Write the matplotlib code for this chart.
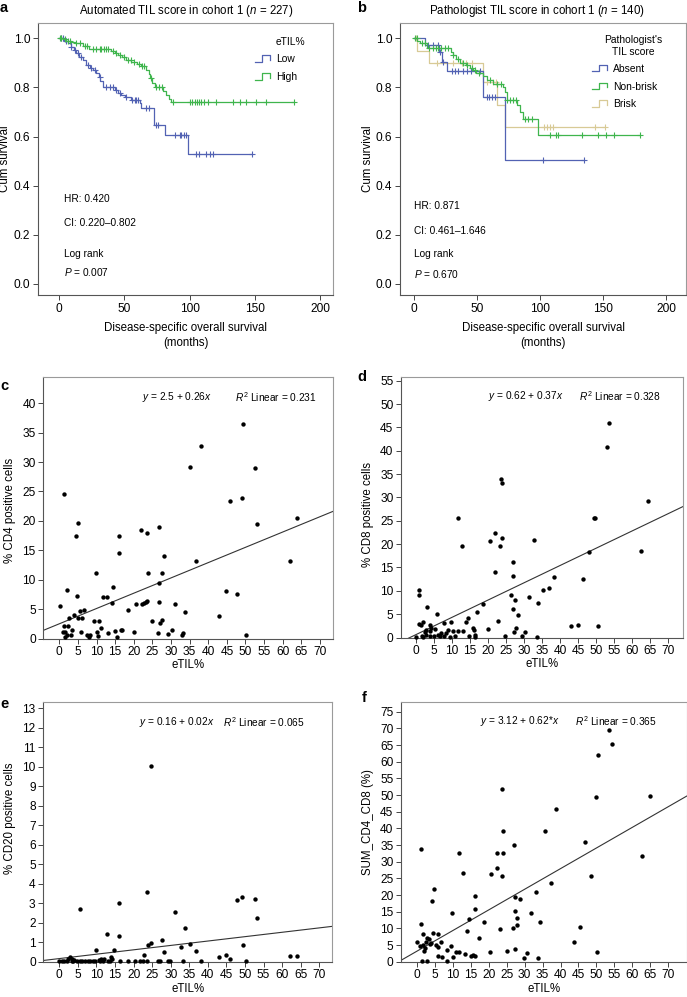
import numpy as np
import matplotlib
matplotlib.use('Agg')
import matplotlib.pyplot as plt
from matplotlib.lines import Line2D
from matplotlib.legend_handler import HandlerBase
from matplotlib.ticker import FormatStrFormatter

plt.rcParams['font.family'] = ['Liberation Sans', 'DejaVu Sans']
plt.rcParams['mathtext.fontset'] = 'custom'
plt.rcParams['mathtext.rm'] = 'Liberation Sans'
plt.rcParams['mathtext.it'] = 'Liberation Sans:italic'
plt.rcParams['mathtext.bf'] = 'Liberation Sans:bold'

# panel a: Kaplan-Meier, automated TIL score (months / cumulative survival)
a_low_t = [3.8, 6.9, 8.9, 11.2, 13.3, 15.3, 18.4, 20.4, 23.5, 26.0, 28.6, 30.4, 31.6, 33.7, 42.6, 45.2, 47.7,
           50.3, 55.4, 61.7, 63.0, 72.4, 80.9, 98.7]
a_low_s = [0.99, 0.98, 0.966, 0.953, 0.939, 0.923, 0.912, 0.891, 0.878, 0.871, 0.858, 0.841, 0.824, 0.80, 0.79,
           0.779, 0.769, 0.760, 0.749, 0.735, 0.715, 0.647, 0.607, 0.529]
a_low_end = 147.7
a_low_cens = [1.3, 3.1, 5.6, 9.4, 12.0, 14.5, 17.1, 22.2, 24.7, 27.3, 31.1, 36.2, 38.8, 41.3, 43.9, 46.4, 51.5,
              56.1, 57.9, 59.2, 60.5, 66.8, 68.6, 74.0, 75.8, 88.5, 92.3, 93.6, 95.4, 96.9, 105.1, 107.1, 112.8,
              115.8, 117.9, 147.7]
a_high_t = [3.1, 5.6, 9.4, 12.0, 18.4, 23.0, 40.1, 42.6, 45.2, 48.5, 51.0, 55.4, 59.7, 63.0, 66.8, 68.6, 69.9,
            71.4, 73.2, 79.6, 82.1, 84.2, 86.0]
a_high_s = [0.996, 0.99, 0.986, 0.98, 0.97, 0.955, 0.95, 0.94, 0.932, 0.923, 0.912, 0.905, 0.896, 0.885, 0.871,
            0.855, 0.837, 0.817, 0.80, 0.787, 0.769, 0.752, 0.740]
a_high_end = 179.6
a_high_cens = [0.5, 1.8, 4.3, 6.9, 8.2, 13.3, 15.8, 19.6, 21.4, 26.0, 28.6, 31.1, 32.4, 34.2, 35.7, 37.5, 41.3,
               43.9, 46.4, 49.5, 52.8, 54.8, 57.1, 61.2, 63.8, 64.8, 70.7, 74.5, 76.5, 79.1, 87.2, 100.0, 102.0,
               103.8, 105.6, 107.1, 108.9, 110.7, 114.0, 120.4, 133.2, 138.3, 143.4, 151.0, 158.7, 179.6]

# panel b: Kaplan-Meier, pathologist TIL score
b_abs_t = [8.7, 19.8, 22.0, 25.9, 55.0, 72.2]
b_abs_s = [0.973, 0.943, 0.905, 0.868, 0.76, 0.505]
b_abs_end = 135.2
b_abs_cens = [11.4, 15.3, 18.8, 20.6, 23.3, 29.9, 32.5, 35.2, 39.2, 41.8, 45.2, 52.4, 57.7, 59.8, 61.6, 64.3,
              102.6, 135.2]
b_nb_t = [2.6, 4.8, 10.0, 29.4, 31.2, 33.3, 36.5, 41.3, 44.4, 47.1, 49.2, 55.0, 57.7, 62.4, 70.4, 72.2, 73.5,
          81.5, 84.1, 86.2, 98.7]
b_nb_s = [0.99, 0.98, 0.96, 0.945, 0.93, 0.915, 0.90, 0.89, 0.88, 0.87, 0.86, 0.845, 0.83, 0.815, 0.80, 0.78,
          0.75, 0.73, 0.70, 0.67, 0.605]
b_nb_end = 179.4
b_nb_cens = [0.8, 2.1, 6.1, 8.7, 12.2, 14.8, 17.2, 19.3, 21.4, 24.6, 27.2, 31.2, 35.2, 39.2, 41.8, 45.8, 48.4,
             51.9, 60.3, 65.6, 68.8, 73.5, 76.2, 78.8, 80.7, 88.1, 90.7, 93.4, 107.9, 112.7, 114.6, 133.1, 146.3,
             152.1, 158.7, 179.4]
b_br_t = [2.6, 12.2, 55.0, 65.6, 72.2]
b_br_s = [0.95, 0.90, 0.82, 0.73, 0.64]
b_br_end = 151.6
b_br_cens = [1.6, 18.0, 31.2, 37.8, 41.3, 45.8, 57.7, 62.4, 65.1, 103.2, 105.3, 107.9, 110.6, 143.7, 151.6]

# panels c-f: eTIL% vs IHC positive cells
c_x = [1.3, 0.2, 2.0, 1.3, 2.2, 2.6, 1.5, 2.0, 3.1, 3.4, 3.9, 4.4, 4.7, 4.9, 5.1, 5.6, 5.9, 6.0, 6.6, 7.5,
       8.2, 9.3, 9.8, 10.2, 10.7, 10.5, 11.2, 11.8, 12.9, 13.2, 14.1, 14.5, 15.0, 15.6, 16.1, 16.1, 16.5, 16.9,
       18.5, 20.1, 20.5, 22.0, 22.3, 22.7, 23.2, 23.6, 23.6, 23.8, 24.8, 26.6, 26.8, 26.9, 26.8, 27.0, 27.5,
       27.5, 28.1, 29.3, 30.2, 31.2, 32.9, 33.3, 33.8, 35.1, 36.7, 38.0, 42.9, 44.7, 45.8, 47.7, 49.1, 49.4,
       50.1, 52.5, 53.2, 62.0, 63.7, 1.1, 1.5, 7.9]
c_y = [24.6, 5.6, 8.2, 2.1, 2.1, 3.4, 1.1, 0.6, 0.6, 1.4, 4.0, 17.5, 7.2, 19.7, 3.4, 4.7, 1.1, 3.4, 4.8, 0.6,
       0.6, 3.0, 11.2, 1.1, 3.0, 0.4, 1.7, 7.1, 7.0, 1.0, 6.0, 8.8, 1.3, 0.3, 17.5, 14.5, 1.4, 1.5,
       4.8, 1.1, 5.8, 18.4, 5.8, 6.1, 6.2, 6.4, 18.0, 11.2, 3.0, 0.9, 19.0, 9.4, 6.2, 2.6, 3.2,
       11.1, 14.1, 0.7, 1.4, 5.8, 0.6, 0.9, 4.5, 29.2, 13.2, 32.8, 3.8, 8.1, 23.4, 7.5, 23.8, 36.5,
       0.6, 29.0, 19.5, 13.2, 20.4, 1.1, 0.2, 0.2]
c_fit = (2.5, 0.26)

d_x = [53.6, 52.9, 23.7, 23.9, 64.4, 11.6, 49.5, 49.8, 22.0, 20.5, 23.9, 23.2, 12.8, 32.8, 47.9, 62.4, 26.8,
       26.8, 21.9, 38.3, 46.3, 37.0, 35.2, 0.8, 0.8, 26.5, 31.4, 27.6, 33.9, 18.5, 3.1, 27.0, 28.3, 5.7, 16.9,
       14.3, 13.9, 7.8, 9.7, 2.0, 0.8, 1.5, 3.9, 4.3, 3.9, 2.4, 2.8, 22.8, 20.1, 43.0, 44.9, 50.5, 27.2, 27.7,
       30.2, 10.4, 11.7, 9.0, 13.1, 15.7, 16.1, 16.3, 7.0, 6.0, 6.6, 0.0, 1.6, 2.0, 2.7, 4.0, 5.0, 7.9, 9.5,
       10.7, 14.8, 16.4, 24.7, 29.3, 33.5, 5.2, 8.3]
d_y = [45.9, 40.7, 34.0, 33.0, 29.3, 25.5, 25.5, 25.5, 22.4, 20.7, 21.3, 19.5, 19.6, 20.8, 18.3, 18.5, 16.1,
       13.2, 14.1, 13.0, 12.6, 10.6, 10.1, 10.1, 9.1, 9.1, 8.7, 8.0, 7.4, 7.1, 6.6, 6.1, 4.9, 5.0, 5.5,
       4.1, 3.3, 3.1, 3.4, 3.4, 2.9, 2.6, 2.7, 2.0, 1.3, 1.1, 1.5, 3.6, 1.9, 2.4, 2.6, 2.4, 1.1, 2.0,
       1.1, 1.3, 1.3, 1.6, 1.3, 2.0, 1.5, 0.6, 0.9, 0.5, 0.4, 0.2, 0.4, 0.2, 0.6, 0.4, 0.4, 0.4, 0.2,
       0.4, 0.4, 0.2, 0.4, 0.4, 0.2, 1.8, 1.0]
d_fit = (0.62, 0.37)

e_x = [24.6, 23.6, 5.7, 16.2, 31.2, 33.8, 12.9, 16.1, 47.8, 49.3, 52.6, 53.2, 9.8, 14.8, 23.8, 24.7, 27.6,
       28.2, 32.7, 35.1, 36.7, 49.5, 22.8, 13.9, 43.0, 44.8, 45.9, 62.0, 63.9, 2.9, 2.4, 3.5, 4.0, 11.2, 12.1,
       14.3, 10.6, 0.0, 0.6, 1.3, 2.0, 3.3, 3.8, 4.7, 5.6, 6.0, 6.9, 7.8, 8.3, 9.0, 9.6, 11.0, 11.8, 13.2,
       13.6, 16.3, 18.6, 20.4, 21.7, 22.6, 23.5, 26.7, 27.1, 29.4, 29.8, 33.2, 38.2, 50.3]
e_y = [10.04, 3.56, 2.70, 2.99, 2.57, 1.73, 1.40, 1.33, 3.15, 3.34, 3.20, 2.22, 0.60, 0.60, 0.86, 0.94, 1.11,
       0.50, 0.77, 0.89, 0.56, 0.86, 0.34, 0.26, 0.22, 0.34, 0.12, 0.31, 0.29, 0.22, 0.12, 0.12, 0.08, 0.15,
       0.15, 0.12, 0.10, 0.04, 0.05, 0.05, 0.06, 0.05, 0.04, 0.05, 0.05, 0.04, 0.05, 0.05, 0.04, 0.05, 0.05,
       0.05, 0.04, 0.05, 0.05, 0.05, 0.04, 0.05, 0.04, 0.05, 0.05, 0.05, 0.04, 0.05, 0.04, 0.05, 0.04, 0.04]
e_fit = (0.16, 0.0225)

f_x = [53.4, 54.3, 50.4, 50.0, 64.9, 23.8, 38.8, 35.7, 24.1, 46.8, 27.1, 1.1, 11.9, 22.4, 24.1, 13.0, 20.8,
       22.4, 23.7, 48.6, 37.4, 33.3, 4.8, 4.3, 16.3, 27.3, 28.7, 16.3, 9.9, 27.3, 31.7, 14.6, 28.0, 18.7, 34.4,
       1.1, 28.0, 26.8, 23.3, 14.1, 45.5, 17.2, 43.8, 1.8, 4.6, 5.9, 0.1, 2.8, 3.5, 4.0, 2.5, 3.8, 5.3, 1.0,
       1.8, 2.3, 2.0, 6.8, 6.0, 8.3, 9.6, 5.8, 7.1, 8.5, 10.2, 11.0, 11.7, 13.4, 15.1, 15.7, 16.3, 20.3, 25.1,
       27.4, 29.9, 30.6, 33.8, 50.1, 1.6, 3.0, 62.8]
f_y = [69.5, 65.2, 62.0, 49.3, 49.7, 51.8, 45.8, 39.3, 39.3, 35.9, 35.1, 33.8, 32.5, 32.5, 32.5, 26.5, 26.3,
       28.0, 25.7, 25.7, 23.5, 20.8, 21.7, 18.3, 19.7, 19.3, 18.8, 15.7, 14.7, 15.3, 14.5, 12.8, 13.0, 12.0, 12.0,
       11.2, 11.0, 10.0, 9.7, 9.2, 10.5, 7.0, 6.0, 8.2, 8.7, 8.2, 6.0, 7.2, 6.8, 5.5, 5.8, 5.2, 5.0, 4.8,
       5.0, 4.0, 3.2, 5.8, 4.5, 3.4, 4.7, 1.7, 1.3, 0.3, 1.5, 2.8, 3.0, 2.3, 1.7, 2.0, 1.7, 3.0, 3.3,
       3.7, 1.0, 2.5, 1.0, 2.9, 0.3, 0.3, 31.8]
f_fit = (3.12, 0.62)

blue = '#5262b3'
green = '#3fb54d'
tan = '#d8ca96'
W, H = 687.0, 997.0


def px_axes(fig, l, t, r, b):
    return fig.add_axes([l / W, 1 - b / H, (r - l) / W, (b - t) / H])


def style(ax):
    for s in ['top', 'right']:
        ax.spines[s].set_color('#9a9a9a')
    for s in ['left', 'bottom']:
        ax.spines[s].set_color('#555555')
    for s in ax.spines.values():
        s.set_linewidth(0.8)
    ax.tick_params(direction='out', length=3.5, width=0.7, color='#444444', labelsize=8.6, pad=2)


class StepHandler(HandlerBase):
    def create_artists(self, legend, orig_handle, xdescent, ydescent, width, height, fontsize, trans):
        xs = np.array([0, 0.38, 0.38, 0.85, 0.85]) * width - xdescent
        ys = np.array([0.05, 0.05, 0.95, 0.95, 0.3]) * height - ydescent
        return [Line2D(xs, ys, color=orig_handle.get_color(), lw=0.9, transform=trans)]


def km(ax, drop_t, surv, end, cens, color):
    t = np.r_[0, drop_t, end]
    s = np.r_[1.0, surv, surv[-1]]
    ax.step(t, s, where='post', color=color, lw=0.9)
    idx = np.searchsorted(drop_t, cens, side='right')
    ax.plot(cens, np.r_[1.0, surv][idx], ls='none', marker='+', ms=4.5, mew=0.8, color=color)


def km_axes(ax, xlim, title, title_x, stats):
    style(ax)
    ax.set_xlim(*xlim)
    ax.set_ylim(-0.045, 1.062)
    ax.set_xticks([0, 50, 100, 150, 200])
    ax.set_yticks([0, 0.2, 0.4, 0.6, 0.8, 1.0])
    ax.yaxis.set_major_formatter(FormatStrFormatter('%.1f'))
    ax.set_ylabel('Cum survival', fontsize=8.3)
    ax.yaxis.set_label_coords(-0.09, 0.5)
    ax.set_xlabel('Disease-specific overall survival\n(months)', fontsize=8.3, va='top', linespacing=1.3)
    ax.xaxis.set_label_coords(0.5, -0.1)
    ax.text(title_x, 1.015, title, transform=ax.transAxes, ha='center', va='bottom', fontsize=8.3)
    for (x, y, txt) in stats:
        ax.text(x, y, txt, transform=ax.transAxes, fontsize=7.3, va='center')


def km_legend(ax, handles, title, x, y, title_x, title_y):
    ax.legend(handles=handles, handler_map={Line2D: StepHandler()}, loc='upper left',
              bbox_to_anchor=(x, y), frameon=False, fontsize=7.4, handlelength=1.7,
              handletextpad=0.35, labelspacing=0.75, borderaxespad=0, borderpad=0)
    ax.text(title_x, title_y, title, transform=ax.transAxes, ha='center', va='top', fontsize=7.4,
            linespacing=1.2)


def scatter_panel(ax, x, y, fit, xlim, ylim, yticks, ylabel, ylab_y, eq, r2, eq_x, r2_x, eq_y):
    style(ax)
    ax.scatter(x, y, s=10, c='black', linewidths=0, clip_on=False, zorder=3)
    xx = np.array(xlim)
    ax.plot(xx, fit[0] + fit[1] * xx, color='#333333', lw=0.8)
    ax.set_xlim(*xlim)
    ax.set_ylim(*ylim)
    ax.set_xticks(np.arange(0, 71, 5))
    ax.set_yticks(yticks)
    ax.set_ylabel(ylabel, fontsize=8.3)
    ax.yaxis.set_label_coords(-0.095, ylab_y)
    ax.set_xlabel('eTIL%', fontsize=8.3, va='top')
    ax.xaxis.set_label_coords(0.5, -0.08)
    ax.text(eq_x, eq_y, eq, transform=ax.transAxes, fontsize=7.3, va='center')
    ax.text(r2_x, eq_y, r2, transform=ax.transAxes, fontsize=7.3, va='center')


fig = plt.figure(figsize=(W / 100, H / 100), dpi=100)

# a
ax = px_axes(fig, 38, 23, 333, 295)
km(ax, a_low_t, a_low_s, a_low_end, a_low_cens, blue)
km(ax, a_high_t, a_high_s, a_high_end, a_high_cens, green)
km_axes(ax, (-16.1, 209.8), r'Automated TIL score in cohort 1 ($\it{n}$ = 227)', 0.503,
        [(0.088, 0.353, 'HR: 0.420'), (0.088, 0.265, 'CI: 0.220\u20130.802'),
         (0.088, 0.151, 'Log rank'), (0.088, 0.085, r'$\it{P}$ = 0.007')])
km_legend(ax, [Line2D([], [], color=blue, label='Low'), Line2D([], [], color=green, label='High')],
          'eTIL%', 0.736, 0.885, 0.855, 0.95)

# b
ax = px_axes(fig, 400, 23, 686, 295)
km(ax, b_br_t, b_br_s, b_br_end, b_br_cens, tan)
km(ax, b_abs_t, b_abs_s, b_abs_end, b_abs_cens, blue)
km(ax, b_nb_t, b_nb_s, b_nb_end, b_nb_cens, green)
km_axes(ax, (-11.1, 215.9), r'Pathologist TIL score in cohort 1 ($\it{n}$ = 140)', 0.479,
        [(0.049, 0.327, 'HR: 0.871'), (0.049, 0.235, 'CI: 0.461\u20131.646'),
         (0.049, 0.151, 'Log rank'), (0.049, 0.077, r'$\it{P}$ = 0.670')])
km_legend(ax, [Line2D([], [], color=blue, label='Absent'), Line2D([], [], color=green, label='Non-brisk'),
               Line2D([], [], color=tan, label='Brisk')],
          "Pathologist's\nTIL score", 0.671, 0.85, 0.814, 0.955)

# c
ax = px_axes(fig, 43.3, 376.7, 333, 638.5)
scatter_panel(ax, c_x, c_y, c_fit, (-4.3, 73.5), (0, 44.5), np.arange(0, 41, 5), '% CD4 positive cells', 0.49,
              r'$\it{y}$ = 2.5 + 0.26$\it{x}$', r'$\it{R}^2$ Linear = 0.231', 0.341, 0.662, 0.922)

# d
ax = px_axes(fig, 401, 376.7, 683.3, 637.5)
scatter_panel(ax, d_x, d_y, d_fit, (-4.16, 74.2), (0, 55.85), np.arange(0, 56, 5), '% CD8 positive cells', 0.47,
              r'$\it{y}$ = 0.62 + 0.37$\it{x}$', r'$\it{R}^2$ Linear = 0.328', 0.308, 0.63, 0.926)

# e
ax = px_axes(fig, 43.3, 701.7, 332.3, 961.7)
scatter_panel(ax, e_x, e_y, e_fit, (-4.3, 73.5), (0, 13.34), np.arange(0, 14, 1), '% CD20 positive cells', 0.55,
              r'$\it{y}$ = 0.16 + 0.02$\it{x}$', r'$\it{R}^2$ Linear = 0.065', 0.331, 0.622, 0.922)

# f
ax = px_axes(fig, 401, 701.7, 686.7, 961.7)
scatter_panel(ax, f_x, f_y, f_fit, (-4.37, 75.1), (0, 78.0), np.arange(0, 76, 5), 'SUM_CD4_CD8 (%)', 0.537,
              r'$\it{y}$ = 3.12 + 0.62*$\it{x}$', r'$\it{R}^2$ Linear = 0.365', 0.277, 0.609, 0.926)

# panel letters
for (x, y, letter) in [(0, 12, 'a'), (357, 12, 'b'), (0, 390, 'c'), (357, 381, 'd'), (0, 708, 'e'), (362, 702, 'f')]:
    fig.text(x / W, 1 - y / H, letter, fontsize=10.5, fontweight='bold', va='baseline')

fig.savefig('out.png', dpi=100)
